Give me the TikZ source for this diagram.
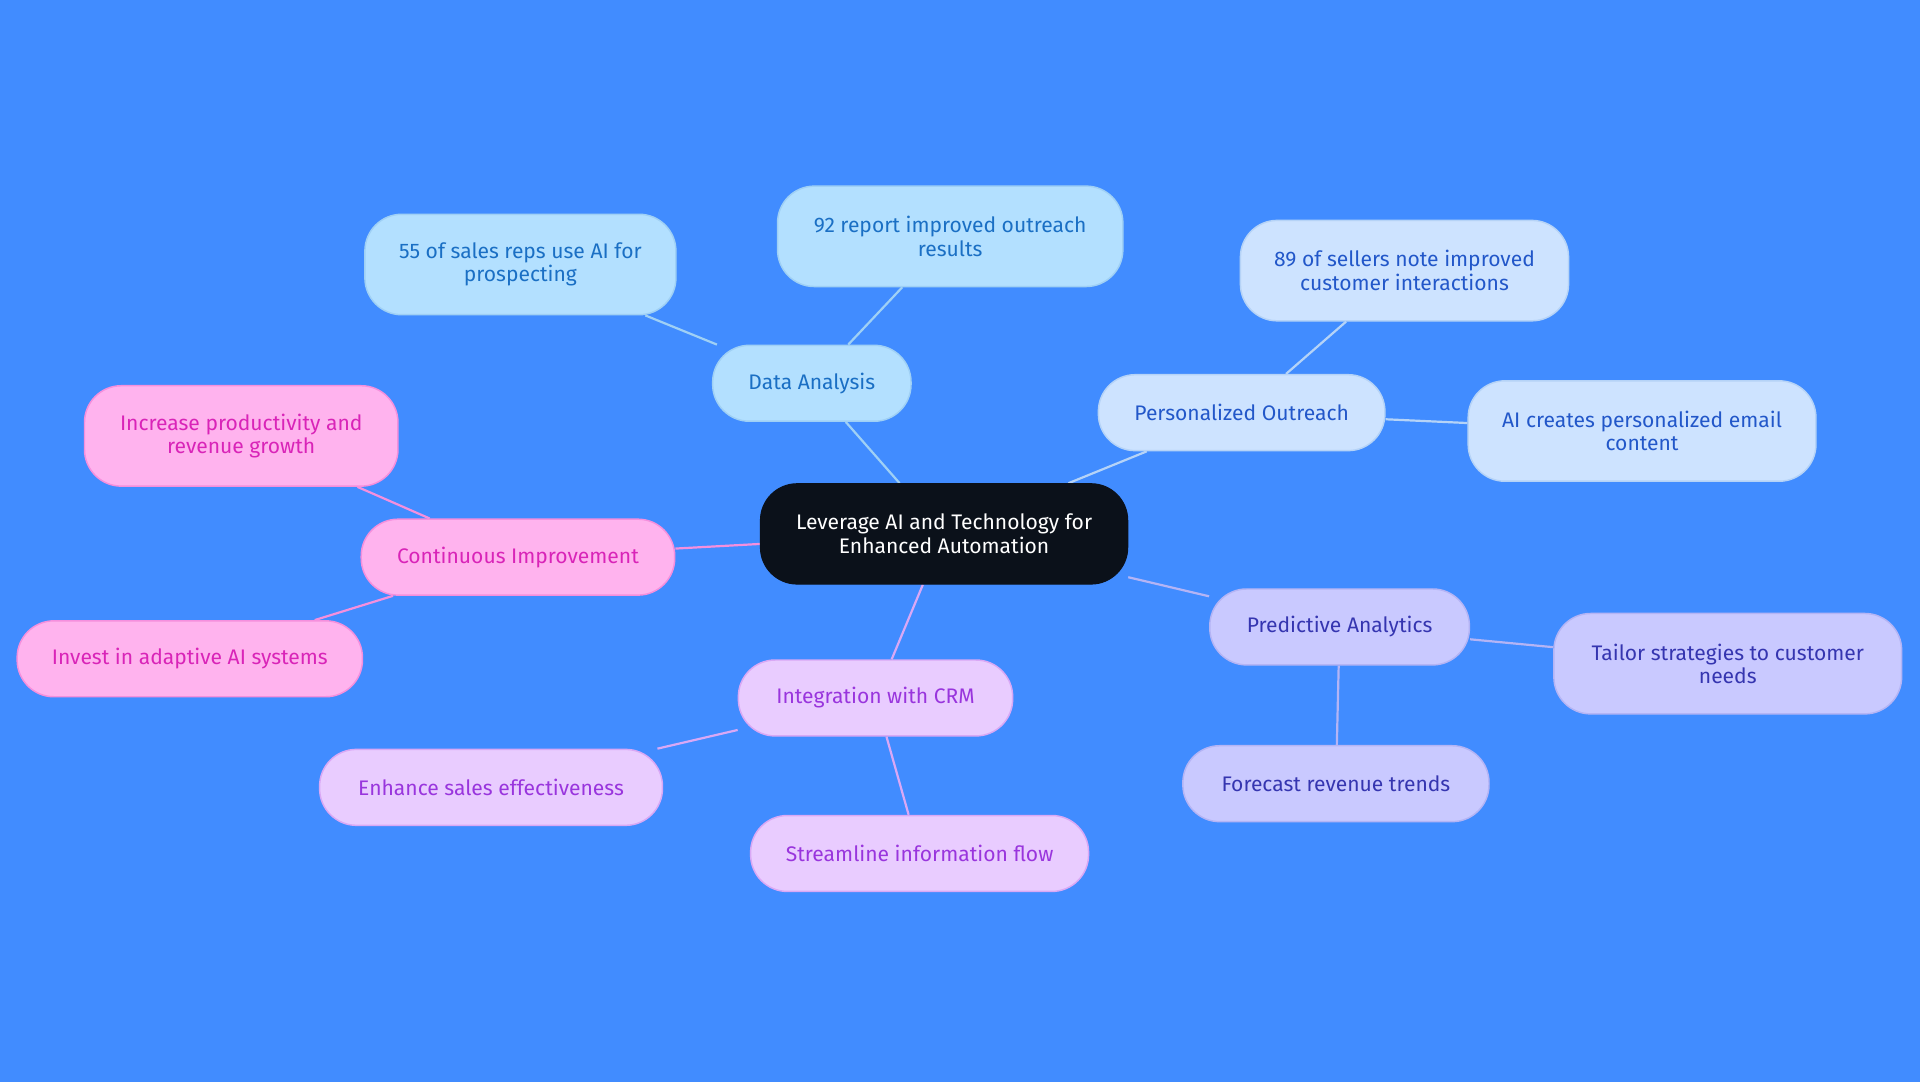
\documentclass[tikz,border=0pt]{standalone}
\usepackage{fontspec}
\setmainfont{Fira Sans}
\usetikzlibrary{backgrounds}
\definecolor{bg}{HTML}{418CFF}
\definecolor{cen}{HTML}{0B111A}
\definecolor{bF}{HTML}{B3E0FF}\definecolor{bT}{HTML}{1A6FC4}\definecolor{bE}{HTML}{9FD0F5}
\definecolor{pF}{HTML}{CDE3FF}\definecolor{pT}{HTML}{2257C9}\definecolor{pE}{HTML}{B5D3F7}
\definecolor{vF}{HTML}{C9C9FF}\definecolor{vT}{HTML}{3535B0}\definecolor{vE}{HTML}{B4B4F5}
\definecolor{iF}{HTML}{E9CCFF}\definecolor{iT}{HTML}{9935DD}\definecolor{iE}{HTML}{D9A8F5}
\definecolor{cF}{HTML}{FFB3EE}\definecolor{cT}{HTML}{D924B8}\definecolor{cE}{HTML}{F58FDD}
\begin{document}
\begin{tikzpicture}[x=0.5pt,y=-0.5pt,
 box/.style={draw=#1E,fill=#1F,text=#1T,rounded corners=15pt,align=center,font=\fontsize{8.6pt}{9.6pt}\selectfont,inner sep=0pt,line width=0.6pt},
 lnk/.style={draw=#1E,line width=0.9pt}]
\useasboundingbox (0,0) rectangle (1568,884);
\node[box=b,minimum width=81pt,minimum height=31pt] (da) at (663,313) {Data Analysis};
\node[box=b,minimum width=127pt,minimum height=41pt] (s55) at (425,216) {55 of sales reps use AI for\\prospecting};
\node[box=b,minimum width=141pt,minimum height=41pt] (r92) at (776,193) {92 report improved outreach\\results};
\node[box=p,minimum width=117pt,minimum height=31pt] (po) at (1014,337) {Personalized Outreach};
\node[box=p,minimum width=134pt,minimum height=41pt] (s89) at (1147,221) {89 of sellers note improved\\customer interactions};
\node[box=p,minimum width=142pt,minimum height=41pt] (aic) at (1341,352) {AI creates personalized email\\content};
\node[box=v,minimum width=106pt,minimum height=31pt] (pa) at (1094,512) {Predictive Analytics};
\node[box=v,minimum width=142pt,minimum height=41pt] (ts) at (1411,542) {Tailor strategies to customer\\needs};
\node[box=v,minimum width=125pt,minimum height=31pt] (fr) at (1091,640) {Forecast revenue trends};
\node[box=i,minimum width=112pt,minimum height=31pt] (ic) at (715,570) {Integration with CRM};
\node[box=i,minimum width=140pt,minimum height=31pt] (es) at (401,643) {Enhance sales effectiveness};
\node[box=i,minimum width=138pt,minimum height=31pt] (sf) at (751,697) {Streamline information flow};
\node[box=c,minimum width=128pt,minimum height=31pt] (ci) at (423,455) {Continuous Improvement};
\node[box=c,minimum width=128pt,minimum height=41pt] (ip) at (197,356) {Increase productivity and\\revenue growth};
\node[box=c,minimum width=141pt,minimum height=31pt] (ia) at (155,538) {Invest in adaptive AI systems};
\node[draw=cen,fill=cen,text=white,rounded corners=15pt,align=center,font=\fontsize{8.6pt}{9.6pt}\selectfont,minimum width=150pt,minimum height=41pt,inner sep=0pt] (c) at (771,436) {Leverage AI and Technology for\\Enhanced Automation};
\begin{scope}[on background layer]
\fill[bg] (0,0) rectangle (1568,884);
\draw[lnk=b] (c) -- (da); \draw[lnk=b] (da) -- (s55); \draw[lnk=b] (da) -- (r92);
\draw[lnk=p] (c) -- (po); \draw[lnk=p] (po) -- (s89); \draw[lnk=p] (po) -- (aic);
\draw[lnk=v] (c) -- (pa); \draw[lnk=v] (pa) -- (ts); \draw[lnk=v] (pa) -- (fr);
\draw[lnk=i] (c) -- (ic); \draw[lnk=i] (ic) -- (es); \draw[lnk=i] (ic) -- (sf);
\draw[lnk=c] (c) -- (ci); \draw[lnk=c] (ci) -- (ip); \draw[lnk=c] (ci) -- (ia);
\end{scope}
\end{tikzpicture}
\end{document}
